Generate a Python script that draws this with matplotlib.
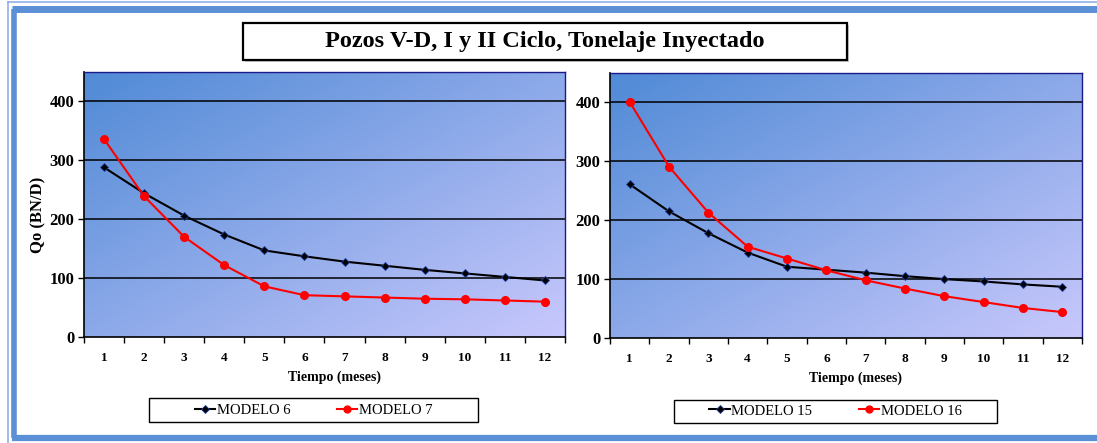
import matplotlib
matplotlib.use('Agg')
import matplotlib.pyplot as plt
import numpy as np
from matplotlib.patches import Rectangle
from matplotlib.lines import Line2D

plt.rcParams['font.family'] = ['Liberation Serif', 'DejaVu Serif']

meses = list(range(1, 13))
modelo_6 = [288, 244, 206, 174, 147, 137, 128, 121, 114, 108, 102, 96]
modelo_7 = [336, 239, 170, 122, 86, 71, 69, 67, 65, 64, 62, 60]
modelo_15 = [261, 215, 178, 145, 121, 116, 111, 105, 100, 96, 91, 87]
modelo_16 = [401, 291, 213, 155, 135, 115, 98, 84, 71, 61, 51, 44]

W, H = 1097, 443
fig = plt.figure(figsize=(W / 100, H / 100), dpi=100)


def fx(x):
    return x / W


def fy(y):
    return 1 - y / H


# blue page frame
frame_blue = '#5b8fd6'
fig.add_artist(Line2D([fx(13.5), fx(13.5)], [fy(8.5), fy(438)], color=frame_blue, lw=4.0,
                      transform=fig.transFigure, solid_capstyle='butt'))
fig.add_artist(Line2D([fx(11.5), fx(1100)], [fy(8.5), fy(8.5)], color=frame_blue, lw=5.0,
                      transform=fig.transFigure, solid_capstyle='butt'))
fig.add_artist(Line2D([fx(11.5), fx(1100)], [fy(438), fy(438)], color=frame_blue, lw=4.5,
                      transform=fig.transFigure, solid_capstyle='butt'))
fig.add_artist(Line2D([fx(7.5), fx(7.5)], [fy(1.5), fy(443)], color='#8fb2e6', lw=1.2,
                      transform=fig.transFigure))
fig.add_artist(Line2D([fx(7.5), fx(1100)], [fy(1.5), fy(1.5)], color='#8fb2e6', lw=1.2,
                      transform=fig.transFigure))

# title box
fig.add_artist(Rectangle((fx(245), fy(62)), fx(847 - 243), (60 - 23) / H, transform=fig.transFigure,
                         facecolor='#c8c8c8', edgecolor='none', zorder=1))
fig.add_artist(Rectangle((fx(243), fy(60)), fx(847 - 243), (60 - 23) / H, transform=fig.transFigure,
                         facecolor='white', edgecolor='black', lw=1.6, zorder=2))
fig.text(fx(545), fy(42), 'Pozos V-D, I y II Ciclo, Tonelaje Inyectado', ha='center', va='center',
         fontsize=17.5, fontweight='bold', zorder=3)

# diagonal gradient for plot areas
n = 200
gx, gy = np.meshgrid(np.linspace(0, 1, n), np.linspace(0, 1, n))
t = np.clip((gx + gy) / 2, 0, 1)
c0 = np.array([80, 138, 214]) / 255
c1 = np.array([200, 200, 252]) / 255
grad = c0 + (c1 - c0) * t[..., None]

panels = [
    ((84, 72, 565, 337), modelo_6, modelo_7, 'MODELO 6', 'MODELO 7', 313.5, 410, 149, 478, 398, 422),
    ((610, 73, 1082, 338), modelo_15, modelo_16, 'MODELO 15', 'MODELO 16', 835.5, 411, 674, 997, 400, 423),
]

for i, (box, s1, s2, n1, n2, lgx, lgy, bx0, bx1, by0, by1) in enumerate(panels):
    x0, y0, x1, y1 = box
    ax = fig.add_axes([fx(x0), fy(y1), fx(x1 - x0), (y1 - y0) / H])
    ax.imshow(grad, extent=[0, 1, 0, 1], transform=ax.transAxes, aspect='auto',
              zorder=0, interpolation='bilinear')
    ax.set_xlim(0.5, 12.5)
    ax.set_ylim(0, 450)
    for v in [100, 200, 300, 400]:
        ax.axhline(v, color='black', lw=1.1, zorder=1)
    l1, = ax.plot(meses, s1, color='black', lw=1.5, marker='D', ms=4.5,
                  mfc='black', mec='#1f3f9f', mew=0.6, zorder=3)
    l2, = ax.plot(meses, s2, color='red', lw=1.5, marker='o', ms=5.5,
                  mfc='red', mec='red', zorder=4)

    ax.set_yticks([0, 100, 200, 300, 400])
    ax.set_yticklabels(['0', '100', '200', '300', '400'], fontsize=12, fontweight='bold')
    ax.set_xticks(np.arange(0.5, 13, 1))
    ax.set_xticklabels([])
    ax.set_xticks(meses, minor=True)
    ax.set_xticklabels([str(m) for m in meses], minor=True, fontsize=9.5, fontweight='bold')
    ax.tick_params(axis='x', which='major', direction='out', length=4, width=1, color='black')
    ax.tick_params(axis='x', which='minor', length=0, pad=11)
    ax.tick_params(axis='y', direction='out', length=4, width=1, pad=3)

    for side in ['top', 'right']:
        ax.spines[side].set_color('#1a1a8a')
        ax.spines[side].set_linewidth(1.0)
    ax.spines['left'].set_linewidth(1.2)
    ax.spines['bottom'].set_linewidth(1.2)

    ax.set_xlabel('Tiempo (meses)', fontsize=10, fontweight='bold')
    ax.xaxis.set_label_coords(0.52, -0.125)
    if i == 0:
        ax.set_ylabel('Qo (BN/D)', fontsize=12, fontweight='bold')
        ax.yaxis.set_label_coords(-0.078, 0.46)

    # legend with its own rectangular frame
    fig.add_artist(Rectangle((fx(bx0), fy(by1)), fx(bx1 - bx0), (by1 - by0) / H,
                             transform=fig.transFigure, facecolor='white',
                             edgecolor='black', lw=1.0))
    fig.legend([l1, l2], [n1, n2], loc='center', bbox_to_anchor=(fx(lgx), fy(lgy)),
               ncol=2, frameon=False, fontsize=10.5, handlelength=1.4, handletextpad=0.1,
               columnspacing=3.2, markerscale=0.9)

plt.savefig('out.png', dpi=100)
